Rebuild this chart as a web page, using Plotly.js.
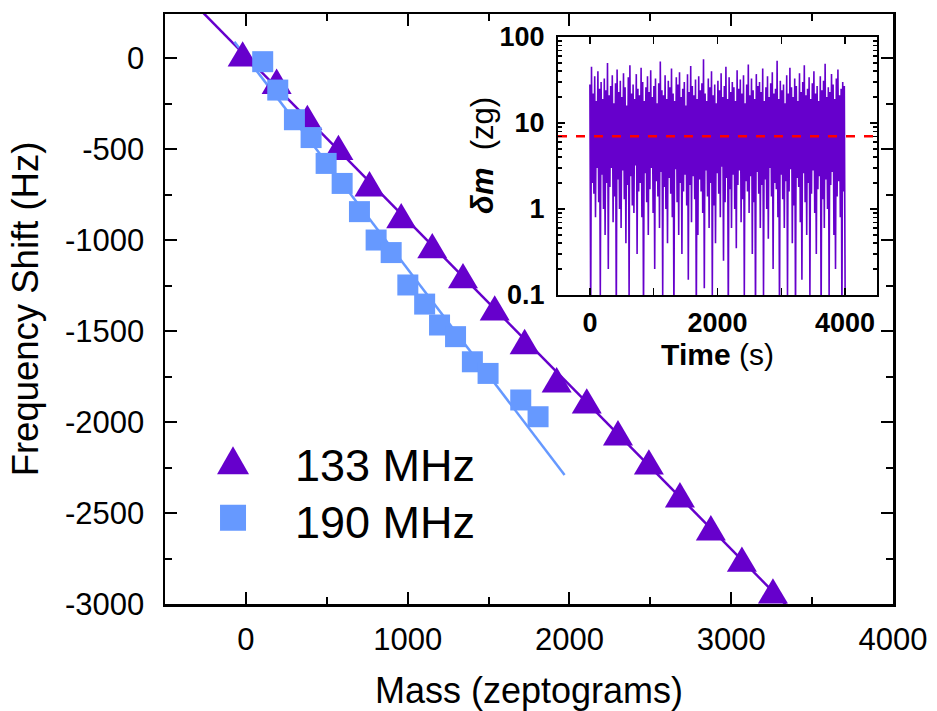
<!DOCTYPE html>
<html>
<head>
<meta charset="utf-8">
<script src="https://cdn.plot.ly/plotly-3.0.1.min.js"></script>
<style>
  html, body { margin: 0; padding: 0; background: #ffffff; }
  #chart { width: 937px; height: 711px; }
</style>
</head>
<body>
<div id="chart"></div>
<script>
// ---------------- data ----------------
const seriesNames = ["133 MHz", "190 MHz"];

// 133 MHz resonator: mass added (zg) vs frequency shift (Hz)
const mass133 = [-20, 190, 380, 572, 764, 960, 1152, 1342, 1538, 1723, 1921, 2107, 2300, 2491, 2683, 2874, 3066, 3258];
const shift133 = [0, -151, -349, -514, -714, -889, -1054, -1219, -1396, -1581, -1791, -1907, -2082, -2242, -2423, -2604, -2777, -2951];

// 190 MHz resonator
const mass190 = [104, 197, 300, 403, 496, 595, 702, 805, 898, 1001, 1105, 1197, 1296, 1400, 1497, 1699, 1806];
const shift190 = [-20, -176, -339, -437, -579, -689, -844, -1000, -1069, -1247, -1352, -1467, -1531, -1669, -1733, -1879, -1971];

// linear fits (end points of drawn fit lines)
const fit133Mass = [-300, 3400];
const fit133Shift = [281, -3060];
const fit190Mass = [-71, 1970];
const fit190Shift = [90, -2291];

// axis ticks
const massTicks = [0, 1000, 2000, 3000, 4000];
const massTickText = ["0", "1000", "2000", "3000", "4000"];
const shiftTicks = [0, -500, -1000, -1500, -2000, -2500, -3000];
const shiftTickText = ["0", "-500", "-1000", "-1500", "-2000", "-2500", "-3000"];

// inset: mass noise delta-m (zg) vs time (s); alternating peaks and dips of the record
const timeStart = 0;       // s
const timeStep = 12.54;    // s between samples
const dmPeaks = [
  28,45,22,35,18,40,25,30,19,33,24,50,21,27,36,17,29,42,23,31,
  20,38,26,16,34,47,22,28,19,37,25,21,44,30,18,26,35,23,41,20,
  27,33,17,29,52,24,21,36,19,31,26,43,22,18,34,28,39,20,25,30,
  16,37,23,46,27,21,32,19,35,24,29,55,22,18,33,26,40,21,28,17,
  31,24,38,20,27,45,19,34,23,30,26,18,41,25,32,22,36,17,28,48,
  21,33,24,19,37,27,30,23,43,18,26,35,20,29,39,22,25,53,19,31,
  24,28,17,36,22,44,26,20,33,27,18,38,23,30,47,21,25,34,19,29,
  40,22,27,18,35,24,31,49,20,26,23,37,28,19,33,42,21,25,30,27
];
const dmDips = [
  0.05,2,1.5,0.8,3,1.2,0.1,2.5,1,0.5,2,0.2,1.8,3,0.7,1.4,0.05,2.2,1,0.6,
  2.8,1.3,0.4,1.9,0.1,2.4,1.1,0.9,3.2,0.3,1.6,2,0.8,0.05,2.6,1.2,0.5,1.7,3,0.9,
  0.2,2.1,1.4,0.6,2.7,0.1,1.8,1,0.4,2.3,1.5,0.8,0.05,2.9,1.2,0.5,2,0.3,1.6,2.5,
  1.1,0.15,1.9,0.7,2.4,1.3,0.05,0.5,2.2,1.6,0.9,0.12,2.8,1.4,0.6,2,0.1,1.1,0.4,2.6,
  1.5,0.8,3.1,0.25,1.2,2.3,0.05,1.7,0.6,2.5,1,0.35,1.9,2.8,0.7,1.3,0.1,2.1,1.6,0.9,
  2.4,0.3,1.2,0.05,2.7,1.5,0.6,1.9,0.1,2.2,1,0.45,3,1.4,0.2,2,1.7,0.8,0.05,2.5,
  1.3,0.6,2.1,0.1,1.6,2.9,0.4,1.1,0.05,2.3,1.8,0.7,0.15,2.6,1.2,0.5,2,0.1,1.5,2.8,
  0.9,0.3,1.7,2.4,0.05,1.3,0.6,2.2,1,0.1,1.9,2.7,0.5,0.2,1.4,2.1,0.8,0.05,1.6,0.1
];
const detectionLimit = 7;            // zg, red dashed line
const insetTimeRange = [-500, 4500];
const insetTimeTicks = [0, 2000, 4000];
const insetTimeTickText = ["0", "2000", "4000"];
const insetDmTicks = [0.1, 1, 10, 100];
const insetDmTickText = ["0.1", "1", "10", "100"];

// ---------------- build ----------------
const purple = "#6600CC";
const blue = "#6699FF";
const FONT = "Liberation Sans, Arial, Helvetica, sans-serif";

const dmSeries = [];
for (let i = 0; i < dmPeaks.length; i++) {
  dmSeries.push(dmPeaks[i]);
  dmSeries.push(dmDips[i]);
}

const traces = [
  { x: fit133Mass, y: fit133Shift, mode: "lines", line: { color: purple, width: 2.5 },
    showlegend: false, hoverinfo: "skip", xaxis: "x", yaxis: "y" },
  { x: fit190Mass, y: fit190Shift, mode: "lines", line: { color: blue, width: 2.5 },
    showlegend: false, hoverinfo: "skip", xaxis: "x", yaxis: "y" },
  { x: mass133, y: shift133, name: seriesNames[0], uid: "tri133", mode: "markers",
    marker: { symbol: "triangle-up", size: 26, color: purple, line: { width: 0 } },
    cliponaxis: false, xaxis: "x", yaxis: "y" },
  { x: mass190, y: shift190, name: seriesNames[1], uid: "sq190", mode: "markers",
    marker: { symbol: "square", size: 21, color: blue, line: { width: 0 } },
    cliponaxis: false, xaxis: "x", yaxis: "y" },
  { y: dmSeries, x0: timeStart, dx: timeStep, mode: "lines",
    line: { color: purple, width: 1.6 }, showlegend: false, hoverinfo: "skip",
    xaxis: "x2", yaxis: "y2" },
  { x: insetTimeRange, y: [detectionLimit, detectionLimit], mode: "lines",
    line: { color: "#FF0000", width: 2.5, dash: "dash" }, showlegend: false,
    hoverinfo: "skip", xaxis: "x2", yaxis: "y2" }
];

const plotH = 711 - 14 - 107;
const plotW = 937 - 165 - 44;

const layout = {
  width: 937, height: 711,
  margin: { l: 165, r: 44, t: 14, b: 107, pad: 0 },
  paper_bgcolor: "#ffffff", plot_bgcolor: "#ffffff",
  font: { family: FONT, color: "#000000" },
  showlegend: true,
  legend: {
    x: 0.0275, y: 0.299, xanchor: "left", yanchor: "top",
    bgcolor: "rgba(0,0,0,0)", borderwidth: 0,
    font: { family: FONT, size: 45, color: "#000000" },
    itemwidth: 100, tracegroupgap: 0
  },
  annotations: [{
    text: "<b><i>δm</i></b>  (zg)",
    xref: "paper", yref: "paper",
    x: (482 - 165) / plotW, y: (604 - 156) / plotH,
    xanchor: "center", yanchor: "middle", textangle: -90,
    showarrow: false, font: { family: FONT, size: 31, color: "#000" }
  }],
  xaxis: {
    domain: [0, 1], anchor: "y", range: [-500, 4000],
    tickmode: "array", tickvals: massTicks, ticktext: massTickText,
    ticks: "inside", ticklen: 12, tickwidth: 2, tickcolor: "#000",
    minor: { ticks: "inside", ticklen: 7, tickwidth: 2, dtick: 500, tick0: 0, tickcolor: "#000", showgrid: false },
    showline: true, linewidth: 2.5, linecolor: "#000", mirror: "ticks",
    showgrid: false, zeroline: false,
    tickfont: { family: FONT, size: 31 }, ticklabelstandoff: 6,
    title: { text: "Mass (zeptograms)", font: { family: FONT, size: 36 }, standoff: 27 }
  },
  yaxis: {
    domain: [0, 1], anchor: "x", range: [-3000, 242],
    tickmode: "array", tickvals: shiftTicks, ticktext: shiftTickText,
    ticks: "inside", ticklen: 12, tickwidth: 2, tickcolor: "#000",
    minor: { ticks: "inside", ticklen: 7, tickwidth: 2, dtick: 250, tick0: 0, tickcolor: "#000", showgrid: false },
    showline: true, linewidth: 2.5, linecolor: "#000", mirror: "ticks",
    showgrid: false, zeroline: false,
    tickfont: { family: FONT, size: 31 }, ticklabelstandoff: 12,
    title: { text: "Frequency Shift (Hz)", font: { family: FONT, size: 36.5 }, standoff: 15 }
  },
  xaxis2: {
    domain: [(558 - 165) / plotW, (877 - 165) / plotW], anchor: "y2", range: insetTimeRange,
    tickmode: "array", tickvals: insetTimeTicks, ticktext: insetTimeTickText,
    ticks: "inside", ticklen: 7, tickwidth: 1.5, tickcolor: "#000",
    minor: { ticks: "inside", ticklen: 7, tickwidth: 1.5, dtick: 1000, tick0: 0, tickcolor: "#000", showgrid: false },
    showline: true, linewidth: 2, linecolor: "#000", mirror: "ticks",
    showgrid: false, zeroline: false,
    tickfont: { family: FONT, size: 27, weight: "bold" }, ticklabelstandoff: 3,
    title: { text: "<b>Time</b> (s)", font: { family: FONT, size: 30 }, standoff: 4 }
  },
  yaxis2: {
    domain: [(604 - 295) / plotH, (604 - 37) / plotH], anchor: "x2",
    type: "log", range: [-1, 2],
    tickmode: "array", tickvals: insetDmTicks, ticktext: insetDmTickText,
    ticks: "inside", ticklen: 7, tickwidth: 1.5, tickcolor: "#000",
    minor: { ticks: "inside", ticklen: 4, tickwidth: 1.5, dtick: "D1", tickcolor: "#000", showgrid: false },
    showline: true, linewidth: 2, linecolor: "#000", mirror: "ticks",
    showgrid: false, zeroline: false,
    tickfont: { family: FONT, size: 27, weight: "bold" }, ticklabelstandoff: 6
  }
};

Plotly.newPlot("chart", traces, layout, { displayModeBar: false, staticPlot: true }).then(function () {
  // stretch triangles to the taller shape of the reference symbols
  document.querySelectorAll(".tracetri133 path.point").forEach(function (p) {
    const t = p.getAttribute("transform") || "";
    p.setAttribute("transform", t + " scale(1,1.3)");
  });
  // enlarge legend symbols, tighten row spacing
  const targets = [[32, 28], [26, 26]];
  const items = document.querySelectorAll(".legend .traces");
  items.forEach(function (item, i) {
    const path = item.querySelector("path.scatterpts");
    const txt = item.querySelector("text.legendtext");
    if (!path || !txt) return;
    const bb = path.getBBox();
    const sx = targets[i][0] / bb.width, sy = targets[i][1] / bb.height;
    const cy = -(bb.y + bb.height / 2) * sy - 3;
    const tx = parseFloat(txt.getAttribute("x")) - 62;
    path.setAttribute("transform", "translate(" + tx + "," + cy + ") scale(" + sx + "," + sy + ")");
    if (i > 0) {
      const tr = item.getAttribute("transform") || "";
      const m = tr.match(/translate\(\s*([-\d.]+)[ ,]+([-\d.]+)\s*\)/);
      if (m) item.setAttribute("transform", "translate(" + m[1] + "," + (parseFloat(m[2]) - 4 * i) + ")");
    }
  });
});
</script>
</body>
</html>
